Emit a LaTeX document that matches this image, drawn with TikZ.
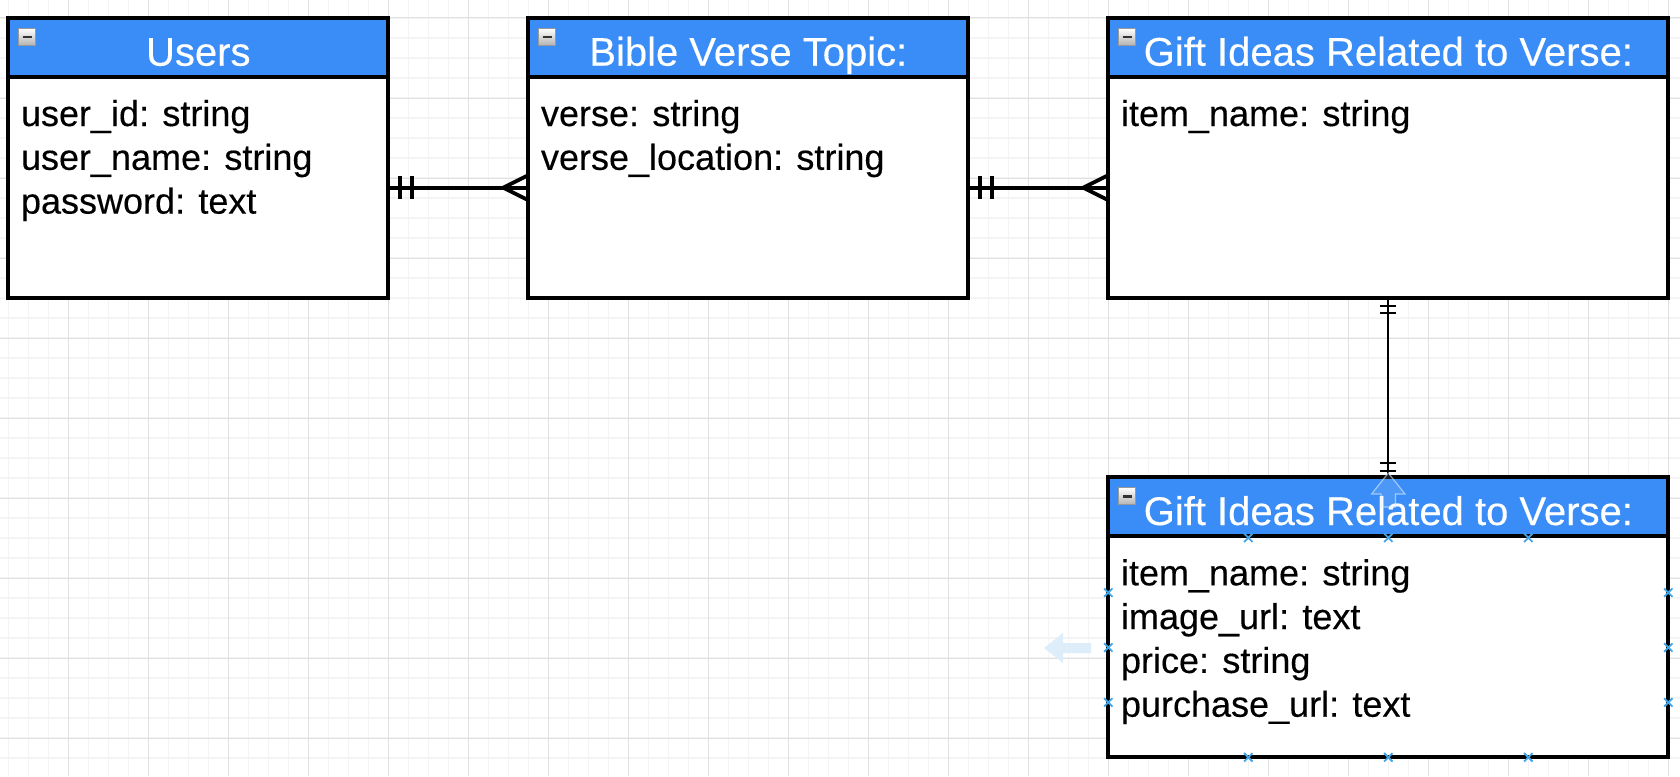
\documentclass[tikz,border=0pt]{standalone}
\usepackage{fontspec}
\setmainfont{Liberation Sans}
\usetikzlibrary{calc}
\definecolor{hdrblue}{RGB}{58,141,247}
\definecolor{gridminor}{RGB}{244,244,244}
\definecolor{gridmajor}{RGB}{224,224,224}
\definecolor{handleblue}{RGB}{66,165,232}
\definecolor{hintblue}{RGB}{222,237,250}
\tikzset{
  entity/.style={draw=black, line width=4pt, fill=white, inner sep=0pt, outer sep=0pt,
    anchor=north west, minimum height=280pt},
  hdr/.style={draw=black, line width=4pt, fill=hdrblue, inner sep=0pt, outer sep=0pt,
    anchor=north west, minimum height=58.7pt},
  title/.style={text=white, font=\fontsize{40}{48}\selectfont\addfontfeature{FakeBold=0.3}, inner sep=0pt, anchor=base},
  attr/.style={text=black, font=\fontsize{36}{43.8}\selectfont\addfontfeature{FakeBold=0.3}, inner sep=0pt, anchor=base west},
  rel/.style={draw=black, line width=3.8pt},
  thinrel/.style={draw=black, line width=1.7pt},
  minusicon/.pic={
    \shade[top color=white, bottom color=black!30, draw=black!40, line width=0.8pt]
      (0,0) rectangle (17,17);
    \draw[line width=2.6pt, black!80] (4,8.5) -- (13,8.5);
  },
  hmark/.pic={
    \draw[handleblue, line width=1.8pt] (-4.2,-4.2) -- (4.2,4.2) (-4.2,4.2) -- (4.2,-4.2);
  }
}
\begin{document}
\begin{tikzpicture}[x=1pt,y=-1pt]
\useasboundingbox (0,0) rectangle (1680,776);
\fill[white] (0,0) rectangle (1680,776);
% grid
\foreach \i in {0,...,85} {\draw[gridminor, line width=1.6pt] ({-11.7+20*\i},0) -- ++(0,776);}
\foreach \j in {0,...,39} {\draw[gridminor, line width=1.6pt] (0,{-2+20*\j}) -- ++(1680,0);}
\foreach \i in {0,...,21} {\draw[gridmajor, line width=1pt] ({-11.7+80*\i},0) -- ++(0,776);}
\foreach \j in {0,...,9} {\draw[gridmajor, line width=1pt] (0,{18+80*\j}) -- ++(1680,0);}

% entities
\node[entity, minimum width=380pt] (users) at (8.3,18) {};
\node[hdr, minimum width=380pt] (usersh) at (users.north west) {};
\node[entity, minimum width=440pt] (bible) at (528.3,18) {};
\node[hdr, minimum width=440pt] (bibleh) at (bible.north west) {};
\node[entity, minimum width=560pt] (gift1) at (1108.3,18) {};
\node[hdr, minimum width=560pt] (gift1h) at (gift1.north west) {};
\node[entity, minimum width=560pt] (gift2) at (1108.3,477.3) {};
\node[hdr, minimum width=560pt] (gift2h) at (gift2.north west) {};

% icons
\pic at (18.5,28.5) {minusicon};
\pic at (538.5,28.5) {minusicon};
\pic at (1118.5,28.5) {minusicon};
\pic at (1118.5,487.8) {minusicon};

% titles
\node[title] (userst) at (198.3,65.7) {Users};
\node[title] (biblet) at (748.3,65.7) {Bible Verse Topic:};
\node[title] (gift1t) at (1388.3,65.7) {Gift Ideas Related to Verse:};
\node[title] (gift2t) at (1388.3,525) {Gift Ideas Related to Verse:};

% attributes
\node[attr] (u1) at (20.8,126) {user\_id: string};
\node[attr] (u2) at (20.8,169.8) {user\_name: string};
\node[attr] (u3) at (20.8,213.6) {password: text};
\node[attr] (b1) at (540.8,126) {verse: string};
\node[attr] (b2) at (540.8,169.8) {verse\_location: string};
\node[attr] (g1) at (1120.8,126) {item\_name: string};
\node[attr] (h1) at (1120.8,585.3) {item\_name: string};
\node[attr] (h2) at (1120.8,629.1) {image\_url: text};
\node[attr] (h3) at (1120.8,672.9) {price: string};
\node[attr] (h4) at (1120.8,716.7) {purchase\_url: text};

% connector Users -> Bible
\coordinate (ue) at ([yshift=-29.7pt]users.east);
\coordinate (bw) at ([yshift=-29.7pt]bible.west);
\draw[rel] (ue) -- (bw);
\draw[rel] (ue) ++(11.7,-11.7) -- ++(0,23.4);
\draw[rel] (ue) ++(23.4,-11.7) -- ++(0,23.4);
\draw[rel] (bw) ++(0,-12.5) -- ++(-25,12.5) -- ++(25,12.5);

% connector Bible -> Gift1
\coordinate (be) at ([yshift=-29.7pt]bible.east);
\coordinate (gw) at ([yshift=-29.7pt]gift1.west);
\draw[rel] (be) -- (gw);
\draw[rel] (be) ++(11.7,-11.7) -- ++(0,23.4);
\draw[rel] (be) ++(23.4,-11.7) -- ++(0,23.4);
\draw[rel] (gw) ++(0,-12.5) -- ++(-25,12.5) -- ++(25,12.5);

% connector Gift1 -> Gift2
\coordinate (g1s) at (gift1.south);
\coordinate (g2n) at (gift2.north);
\draw[thinrel] (g1s) -- (g2n);
\draw[thinrel] (g1s) ++(-8,7.7) -- ++(16,0);
\draw[thinrel] (g1s) ++(-8,15) -- ++(16,0);
\draw[thinrel] (g2n) ++(-8,-14) -- ++(16,0);
\draw[thinrel] (g2n) ++(-8,-6.6) -- ++(16,0);

% hover hints
\filldraw[fill=hintblue, fill opacity=0.12, draw=hintblue, draw opacity=0.6, line width=1.2pt]
  (1388.3,473) -- (1405,494) -- (1395.5,494) -- (1395.5,507) -- (1381.1,507)
  -- (1381.1,494) -- (1371.6,494) -- cycle;
\fill[hintblue] (1044,648) -- (1063,633) -- (1063,643) -- (1091,643) -- (1091,653)
  -- (1063,653) -- (1063,663) -- cycle;

% selection handles
\foreach \x in {1248.3,1388.3,1528.3} {
  \pic at (\x,537.7) {hmark};
  \pic at (\x,757.3) {hmark};
}
\foreach \y in {592.6,647.5,702.4} {
  \pic at (1108.3,\y) {hmark};
  \pic at (1668.3,\y) {hmark};
}
\end{tikzpicture}
\end{document}
